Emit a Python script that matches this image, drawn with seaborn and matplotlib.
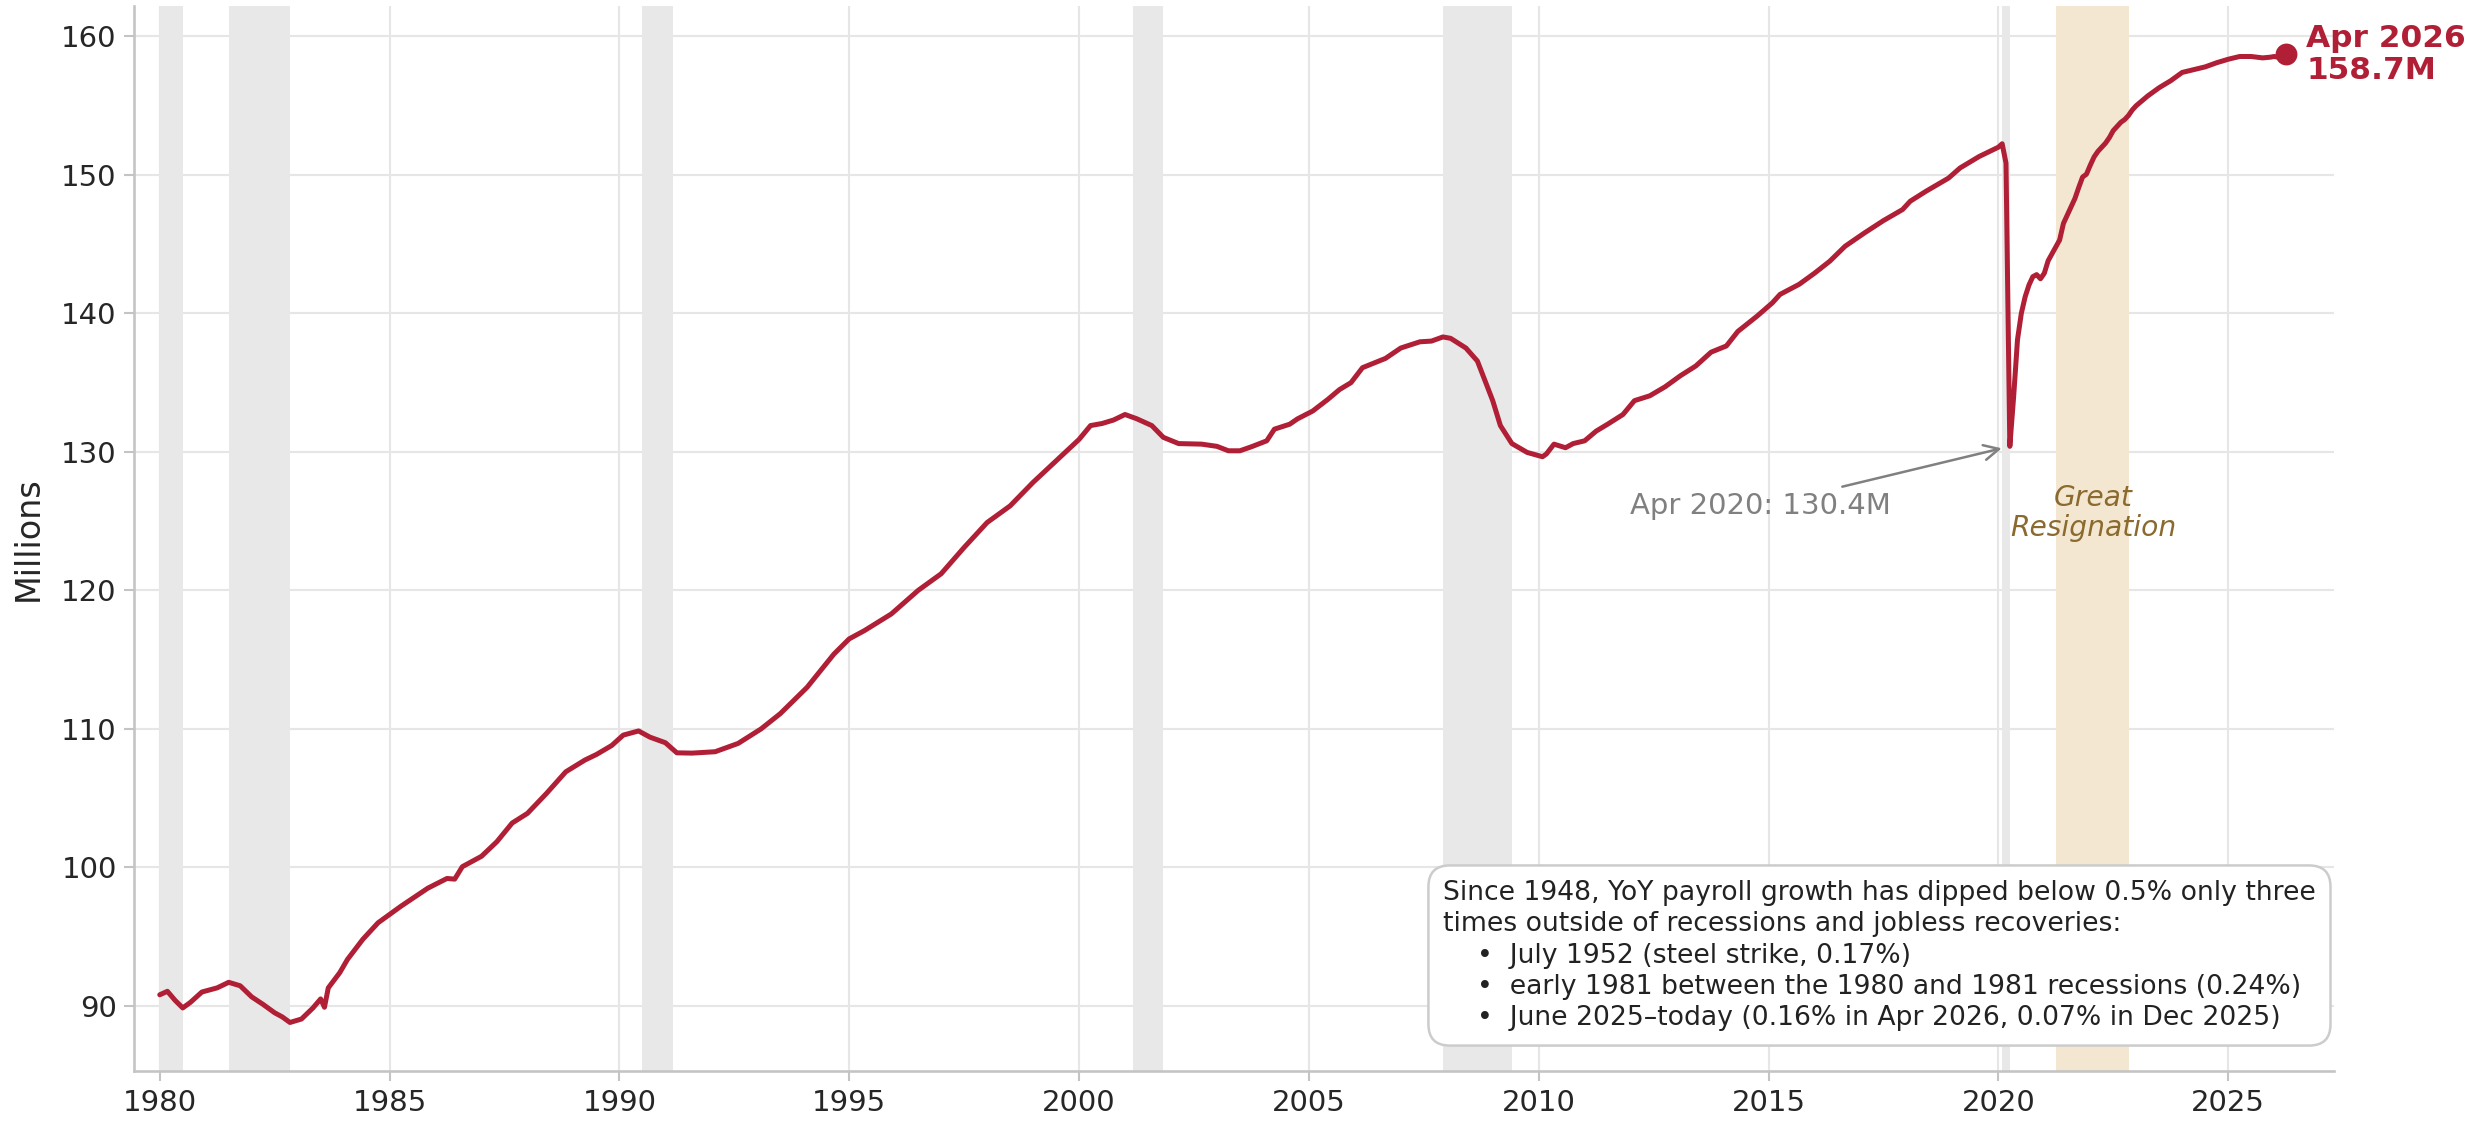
import numpy as np
import pandas as pd
import matplotlib
matplotlib.use("Agg")
import matplotlib.pyplot as plt
import seaborn as sns

# total nonfarm payrolls, millions
dates = [
    "1980-01", "1980-03", "1980-05", "1980-07", "1980-09", "1980-12",
    "1981-04", "1981-07", "1981-10", "1982-01", "1982-04", "1982-07",
    "1982-09", "1982-11", "1983-02", "1983-05", "1983-07", "1983-08",
    "1983-09", "1983-12", "1984-02", "1984-06", "1984-10", "1985-04",
    "1985-11", "1986-04", "1986-06", "1986-08", "1987-01", "1987-05",
    "1987-09", "1988-01", "1988-06", "1988-11", "1989-04", "1989-07",
    "1989-11", "1990-02", "1990-06", "1990-09", "1991-01", "1991-04",
    "1991-08", "1992-02", "1992-08", "1993-02", "1993-07", "1994-02",
    "1994-09", "1995-01", "1995-05", "1995-12", "1996-07", "1997-01",
    "1997-07", "1998-01", "1998-07", "1999-01", "1999-07", "2000-01",
    "2000-04", "2000-07", "2000-10", "2001-01", "2001-04", "2001-08",
    "2001-11", "2002-03", "2002-09", "2003-01", "2003-04", "2003-07",
    "2003-10", "2004-02", "2004-04", "2004-08", "2004-10", "2005-02",
    "2005-06", "2005-09", "2005-12", "2006-03", "2006-09", "2007-01",
    "2007-06", "2007-09", "2007-12", "2008-02", "2008-06", "2008-09",
    "2009-01", "2009-03", "2009-06", "2009-10", "2010-02", "2010-03",
    "2010-05", "2010-08", "2010-10", "2011-01", "2011-04", "2011-07",
    "2011-11", "2012-02", "2012-06", "2012-10", "2013-02", "2013-06",
    "2013-10", "2014-02", "2014-05", "2014-10", "2015-02", "2015-04",
    "2015-09", "2016-01", "2016-05", "2016-09", "2017-02", "2017-07",
    "2017-12", "2018-02", "2018-06", "2018-12", "2019-03", "2019-08",
    "2020-01", "2020-02", "2020-03", "2020-04", "2020-05", "2020-06",
    "2020-07", "2020-08", "2020-09", "2020-10", "2020-11", "2020-12",
    "2021-01", "2021-02", "2021-03", "2021-04", "2021-05", "2021-06",
    "2021-07", "2021-08", "2021-09", "2021-10", "2021-11", "2021-12",
    "2022-01", "2022-02", "2022-03", "2022-04", "2022-05", "2022-06",
    "2022-07", "2022-08", "2022-09", "2022-10", "2022-11", "2022-12",
    "2023-01", "2023-04", "2023-07", "2023-10", "2024-01", "2024-04",
    "2024-07", "2024-10", "2025-01", "2025-04", "2025-07", "2025-10",
    "2025-12", "2026-01", "2026-02", "2026-03", "2026-04",
]
payrolls = [
    90.8, 91.05, 90.4, 89.85, 90.25, 91.0,
    91.3, 91.7, 91.45, 90.65, 90.1, 89.5,
    89.2, 88.8, 89.05, 89.85, 90.5, 89.9,
    91.3, 92.4, 93.35, 94.8, 96.0, 97.2,
    98.5, 99.2, 99.15, 100.05, 100.8, 101.85,
    103.2, 103.9, 105.35, 106.9, 107.75, 108.15,
    108.8, 109.55, 109.85, 109.4, 109.0, 108.27,
    108.25, 108.35, 108.95, 110.0, 111.1, 113.0,
    115.4, 116.5, 117.1, 118.3, 120.0, 121.2,
    123.1, 124.9, 126.1, 127.8, 129.35, 130.9,
    131.9, 132.05, 132.3, 132.7, 132.4, 131.9,
    131.05, 130.6, 130.56, 130.4, 130.08, 130.08,
    130.37, 130.8, 131.64, 132.0, 132.38, 132.95,
    133.8, 134.5, 135.0, 136.08, 136.75, 137.5,
    137.95, 138.0, 138.3, 138.2, 137.5, 136.56,
    133.7, 131.9, 130.6, 129.96, 129.65, 129.85,
    130.56, 130.3, 130.6, 130.8, 131.5, 132.0,
    132.7, 133.7, 134.05, 134.7, 135.5, 136.2,
    137.2, 137.65, 138.7, 139.8, 140.76, 141.37,
    142.1, 142.9, 143.77, 144.85, 145.8, 146.7,
    147.5, 148.1, 148.8, 149.77, 150.5, 151.33,
    152.0, 152.25, 150.85, 130.4, 134.0, 138.1,
    140.0, 141.2, 142.05, 142.65, 142.8, 142.5,
    142.9, 143.8, 144.3, 144.8, 145.3, 146.5,
    147.1, 147.7, 148.3, 149.1, 149.85, 150.05,
    150.7, 151.3, 151.7, 152.0, 152.3, 152.7,
    153.2, 153.5, 153.8, 154.0, 154.3, 154.7,
    155.0, 155.7, 156.3, 156.8, 157.4, 157.6,
    157.8, 158.1, 158.35, 158.55, 158.55, 158.45,
    158.5, 158.55, 158.5, 158.6, 158.7,
]

# NBER recessions (peak, trough)
recession_start = ["1980-01", "1981-07", "1990-07", "2001-03", "2007-12", "2020-02"]
recession_end = ["1980-07", "1982-11", "1991-03", "2001-11", "2009-06", "2020-04"]
great_resignation = ("2021-04", "2022-11")

note = ("Since 1948, YoY payroll growth has dipped below 0.5% only three\n"
        "times outside of recessions and jobless recoveries:\n"
        "    \u2022  July 1952 (steel strike, 0.17%)\n"
        "    \u2022  early 1981 between the 1980 and 1981 recessions (0.24%)\n"
        "    \u2022  June 2025\u2013today (0.16% in Apr 2026, 0.07% in Dec 2025)")


def to_year(s):
    d = pd.to_datetime(s)
    return d.year + (d.month - 1) / 12.0


df = pd.DataFrame({"year": [to_year(d) for d in dates], "payrolls": payrolls})

RED = "#b01f35"

sns.set_theme(style="whitegrid")
plt.rcParams.update({
    "font.family": ["DejaVu Sans"],
    "grid.color": "#e6e6e6",
    "grid.linewidth": 1.0,
    "axes.edgecolor": "#c4c4c4",
    "xtick.bottom": True,
    "ytick.left": True,
    "xtick.major.size": 5,
    "ytick.major.size": 5,
    "xtick.color": "#c4c4c4",
    "ytick.color": "#c4c4c4",
    "xtick.labelcolor": "#262626",
    "ytick.labelcolor": "#262626",
})

fig = plt.figure(figsize=(16.54, 7.48), dpi=150)
ax = fig.add_axes([0.0542, 0.0455, 0.8865, 0.9492])

for s, e in zip(recession_start, recession_end):
    ax.axvspan(to_year(s), to_year(e), color="#e8e8e8", lw=0, zorder=1)
ax.axvspan(to_year(great_resignation[0]), to_year(great_resignation[1]),
           color="#f4e7d1", lw=0, zorder=1)

sns.lineplot(data=df, x="year", y="payrolls", color=RED, linewidth=2.4,
             ax=ax, zorder=3)

last = df.iloc[-1]
ax.scatter([last["year"]], [last["payrolls"]], s=90, color=RED, zorder=4)
ax.annotate(f"Apr 2026\n{last['payrolls']:.1f}M", (last["year"], last["payrolls"]),
            xytext=(10, 0), textcoords="offset points", ha="left", va="center",
            fontsize=15, fontweight="bold", color=RED, linespacing=1.15,
            annotation_clip=False)

trough = df.loc[df["payrolls"][df["year"] > 2019].idxmin()]
ax.annotate(f"Apr 2020: {trough['payrolls']:.1f}M", (trough["year"], trough["payrolls"]),
            xytext=(2014.83, 126.07), ha="center", va="center", fontsize=14,
            color="#808080",
            arrowprops=dict(arrowstyle="->", color="#808080", lw=1.2,
                            shrinkA=2, shrinkB=4, mutation_scale=18))

ax.text(2022.06, 125.6, "Great\nResignation", ha="center", va="center",
        fontsize=13.5, style="italic", color="#8a6a2e", linespacing=1.1)

note_txt = ax.text(0.9918, 0.0376, note, transform=ax.transAxes, ha="left",
                   va="bottom", fontsize=12.8, color="#222222", linespacing=1.26,
                   bbox=dict(boxstyle="round,pad=0.55,rounding_size=0.8",
                             facecolor="white", edgecolor="#cccccc", linewidth=1.2),
                   zorder=5)

ax.set_xlim(1979.45, 2027.3)
ax.set_ylim(85.3, 162.2)
ax.set_xticks(np.arange(1980, 2026, 5))
ax.set_yticks(np.arange(90, 161, 10))
ax.tick_params(labelsize=14, width=1)
ax.set_xlabel("")
ax.set_ylabel("Millions", fontsize=16, color="#262626", labelpad=8)
sns.despine(ax=ax)
ax.spines["left"].set_color("#c4c4c4")
ax.spines["bottom"].set_color("#c4c4c4")

# right-align the note box against the axes edge
fig.canvas.draw()
bb = note_txt.get_window_extent().transformed(ax.transAxes.inverted())
note_txt.set_position((0.9918 - (bb.x1 - bb.x0), 0.0376))

fig.savefig("out.png", dpi=150)
